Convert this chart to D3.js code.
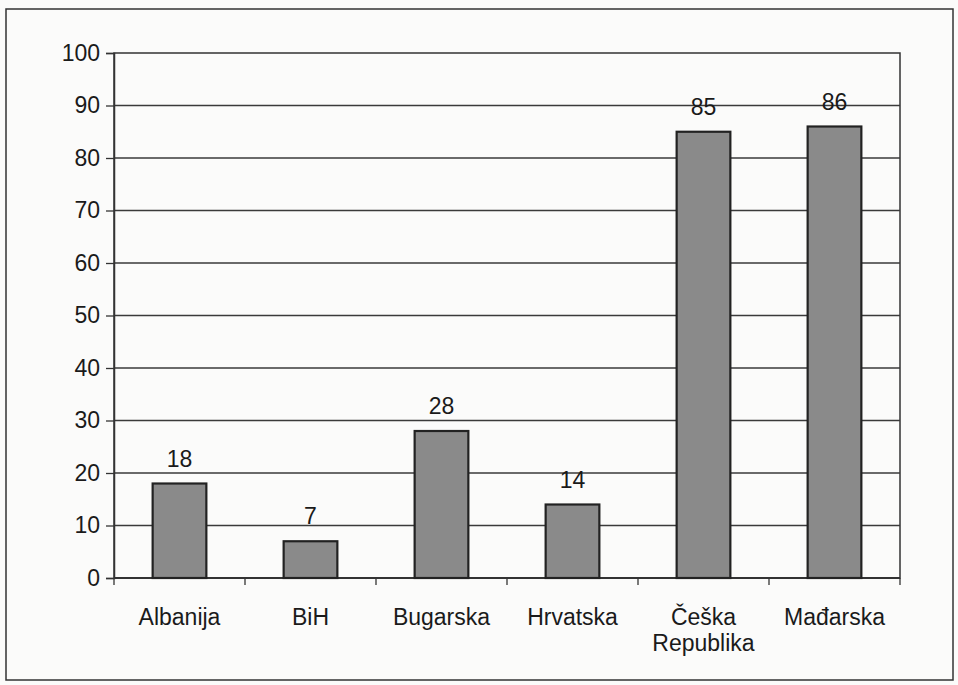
<!DOCTYPE html>
<html>
<head>
<meta charset="utf-8">
<script src="https://cdn.jsdelivr.net/npm/d3@7"></script>
<style>
  body { margin: 0; background: #fbfbfa; }
  text { font-family: "Liberation Sans", Arial, sans-serif; fill: #1a1a1a; }
</style>
</head>
<body>
<div id="chart"></div>
<script>
  const categories = ['Albanija', 'BiH', 'Bugarska', 'Hrvatska', 'Češka Republika', 'Mađarska'];
  const values = [18, 7, 28, 14, 85, 86];
  const yTicks = [0, 10, 20, 30, 40, 50, 60, 70, 80, 90, 100];

  const W = 958, H = 685;
  const margin = { top: 53, right: 58, bottom: 107, left: 114 };
  const fontSize = '23px';

  const svg = d3.select('#chart').append('svg')
    .attr('width', W).attr('height', H);

  // outer frame
  svg.append('rect')
    .attr('x', 6).attr('y', 9)
    .attr('width', W - 11).attr('height', H - 14)
    .attr('fill', 'none').attr('stroke', '#333').attr('stroke-width', 1.5);

  const x = d3.scaleBand()
    .domain(categories)
    .range([margin.left, W - margin.right])
    .paddingInner(0.59).paddingOuter(0.295);

  const y = d3.scaleLinear()
    .domain([0, 100])
    .range([H - margin.bottom, margin.top]);

  // plot frame
  svg.append('rect')
    .attr('x', margin.left).attr('y', margin.top)
    .attr('width', W - margin.right - margin.left)
    .attr('height', y(0) - margin.top)
    .attr('fill', 'none').attr('stroke', '#333').attr('stroke-width', 1.5);

  // grid
  svg.append('g')
    .selectAll('line')
    .data(yTicks.filter(d => d > 0 && d < 100))
    .join('line')
    .attr('x1', margin.left).attr('x2', W - margin.right)
    .attr('y1', d => y(d)).attr('y2', d => y(d))
    .attr('stroke', '#3a3a3a').attr('stroke-width', 1.3);

  // y axis
  const yAxis = svg.append('g')
    .attr('transform', `translate(${margin.left},0)`)
    .call(d3.axisLeft(y).tickValues(yTicks).tickSize(8).tickPadding(6));
  yAxis.selectAll('line').attr('stroke', '#333').attr('stroke-width', 1.3);
  yAxis.select('.domain').attr('stroke', '#333').attr('stroke-width', 1.5);
  yAxis.selectAll('text')
    .style('font-family', '"Liberation Sans", Arial, sans-serif')
    .style('font-size', fontSize).attr('fill', '#1a1a1a');

  // x axis (ticks between categories)
  const step = x.step();
  const bounds = d3.range(categories.length + 1).map(i => margin.left + i * step);
  svg.append('line')
    .attr('x1', margin.left).attr('x2', W - margin.right)
    .attr('y1', y(0)).attr('y2', y(0))
    .attr('stroke', '#333').attr('stroke-width', 2);
  svg.append('g')
    .selectAll('line')
    .data(bounds)
    .join('line')
    .attr('x1', d => d).attr('x2', d => d)
    .attr('y1', y(0)).attr('y2', y(0) + 7)
    .attr('stroke', '#333').attr('stroke-width', 1.3);

  // bars
  svg.append('g')
    .selectAll('rect')
    .data(values)
    .join('rect')
    .attr('x', (d, i) => x(categories[i]))
    .attr('y', d => y(d))
    .attr('width', x.bandwidth())
    .attr('height', d => y(0) - y(d))
    .attr('fill', '#8a8a8a')
    .attr('stroke', '#222').attr('stroke-width', 2.2);

  // value labels
  svg.append('g')
    .selectAll('text')
    .data(values)
    .join('text')
    .attr('x', (d, i) => x(categories[i]) + x.bandwidth() / 2)
    .attr('y', d => y(d) - 17)
    .attr('text-anchor', 'middle')
    .style('font-size', fontSize)
    .text(d => d);

  // category labels
  const labels = svg.append('g')
    .selectAll('text')
    .data(categories)
    .join('text')
    .attr('x', d => x(d) + x.bandwidth() / 2)
    .attr('y', y(0) + 47)
    .attr('text-anchor', 'middle')
    .style('font-size', fontSize);
  labels.each(function(d) {
    const parts = d === 'Češka Republika' ? ['Češka', 'Republika'] : [d];
    d3.select(this).selectAll('tspan')
      .data(parts)
      .join('tspan')
      .attr('x', x(d) + x.bandwidth() / 2)
      .attr('dy', (p, i) => i === 0 ? 0 : 26)
      .text(p => p);
  });
</script>
</body>
</html>
